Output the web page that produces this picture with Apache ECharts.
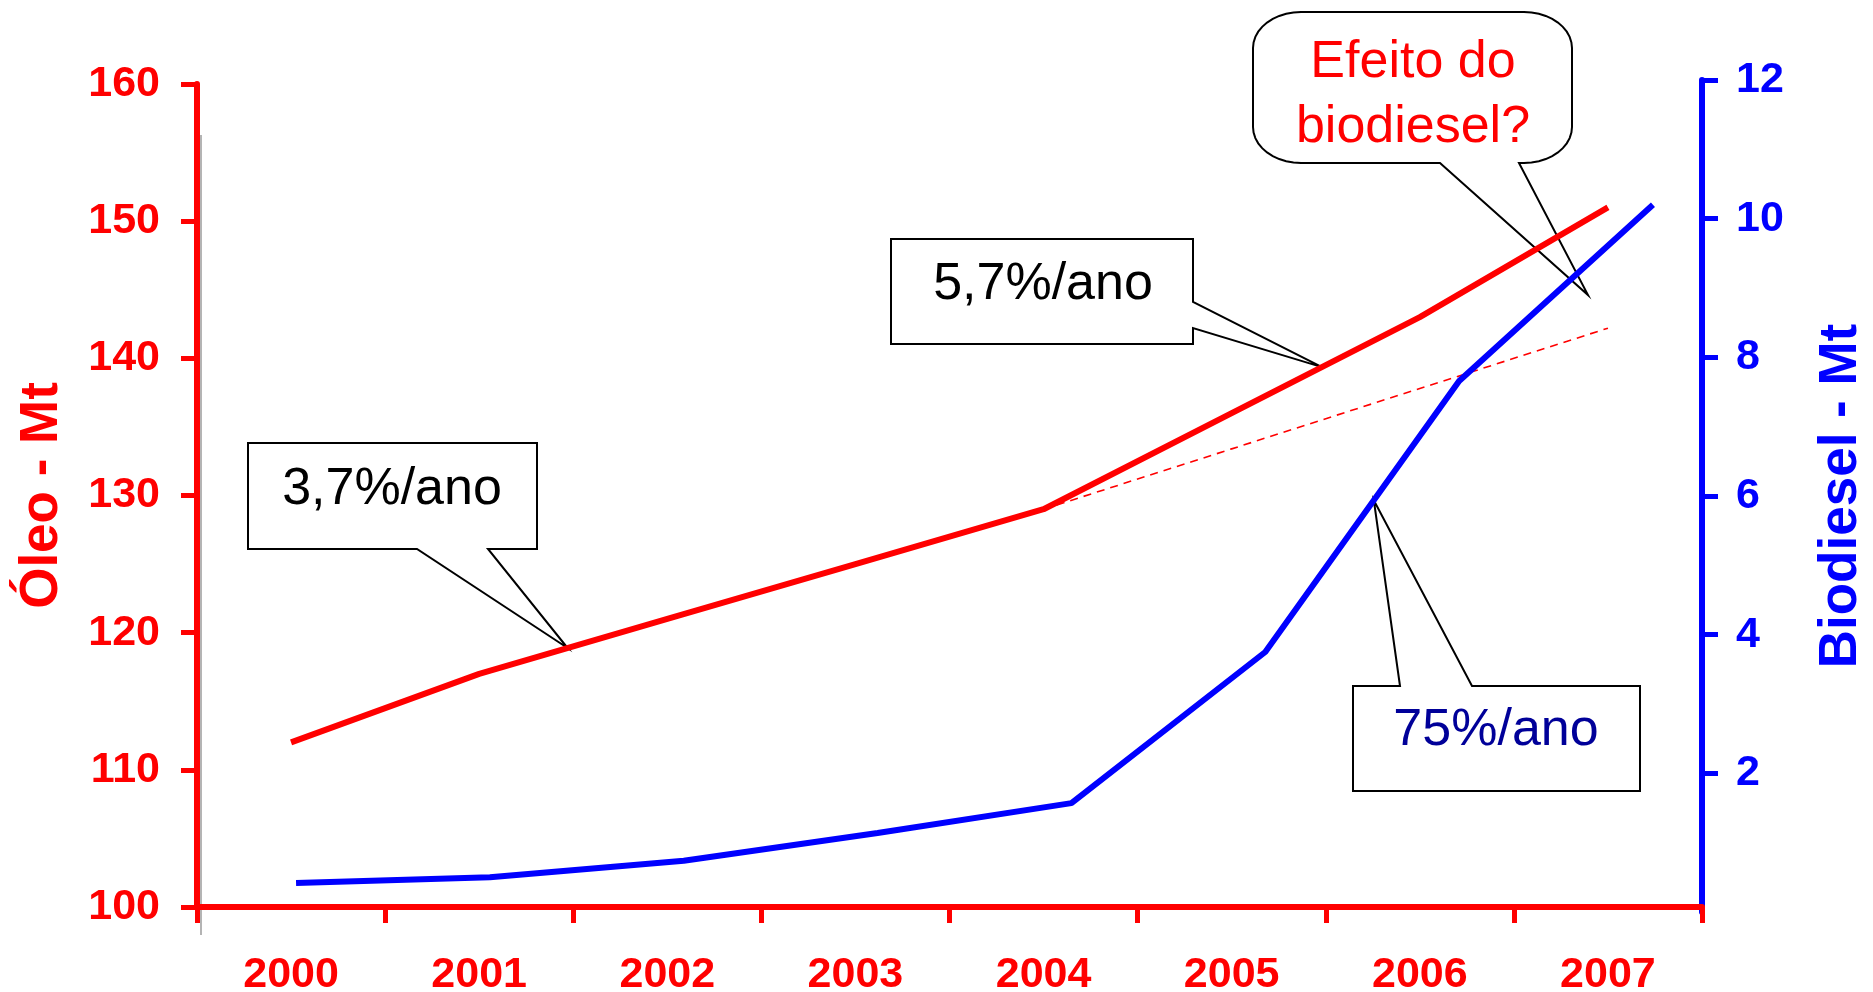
<!DOCTYPE html>
<html>
<head>
<meta charset="utf-8">
<script src="https://cdn.jsdelivr.net/npm/echarts@6/dist/echarts.min.js"></script>
<style>
  html, body { margin: 0; padding: 0; background: #fff; }
  #main { width: 1873px; height: 992px; }
</style>
</head>
<body>
<div id="main"></div>
<script>
// ---- data ----
const categories = ['2000', '2001', '2002', '2003', '2004', '2005', '2006', '2007'];
const oleo = [112, 117, 121, 125, 129, 136, 143, 151];              // Óleo - Mt (left axis)
const oleoTrend = [null, null, null, null, 129, 133.4, 137.8, 142.2]; // 3,7%/ano continuation (dashed)
const biodiesel = [0.42, 0.50, 0.74, 1.14, 1.57, 3.75, 7.66, 10.2];  // Biodiesel - Mt (right axis)
const oleoAxisTitle = 'Óleo - Mt';
const biodieselAxisTitle = 'Biodiesel - Mt';
const biodieselTickLabels = [2, 4, 6, 8, 10, 12];

// ---- style ----
const FONT = '"Liberation Sans", Arial, Helvetica, sans-serif';
const RED = '#ff0000';
const BLUE = '#0000ff';

const chart = echarts.init(document.getElementById('main'), null, { renderer: 'canvas' });

const option = {
  backgroundColor: '#ffffff',
  animation: false,
  grid: [
    { left: 197, right: 171, top: 84, bottom: 85, outerBoundsMode: 'none', containLabel: false },
    { left: 197, right: 171, top: 80, bottom: 80, outerBoundsMode: 'none', containLabel: false }
  ],
  xAxis: [
    {
      type: 'category', gridIndex: 0, data: categories, boundaryGap: true,
      axisLine: { show: true, lineStyle: { color: RED, width: 6 } },
      axisTick: { show: true, length: 16, lineStyle: { color: RED, width: 5 } },
      axisLabel: { color: RED, fontSize: 43, fontWeight: 'bold', fontFamily: FONT, margin: 47 },
      splitLine: { show: false }
    },
    {
      type: 'value', gridIndex: 1, min: -0.511, max: 7.253, show: false
    }
  ],
  yAxis: [
    {
      type: 'value', gridIndex: 0, position: 'left', min: 100, max: 160, interval: 10,
      axisLine: { show: true, onZero: false, lineStyle: { color: RED, width: 6 } },
      axisTick: { show: true, length: 16, lineStyle: { color: RED, width: 5 } },
      axisLabel: { color: RED, fontSize: 43, fontWeight: 'bold', fontFamily: FONT, margin: 37 },
      splitLine: { show: false },
      name: oleoAxisTitle, nameLocation: 'middle', nameRotate: 90, nameGap: 128,
      nameTextStyle: { color: RED, fontSize: 53, fontWeight: 'bold', fontFamily: FONT }
    },
    {
      type: 'value', gridIndex: 1, position: 'right', min: 0, max: 12, interval: 2,
      axisLine: { show: true, onZero: false, lineStyle: { color: BLUE, width: 6 } },
      axisTick: { show: true, length: 16, lineStyle: { color: BLUE, width: 5 }, customValues: biodieselTickLabels },
      axisLabel: { color: BLUE, fontSize: 43, fontWeight: 'bold', fontFamily: FONT, margin: 34, customValues: biodieselTickLabels },
      splitLine: { show: false },
      name: biodieselAxisTitle, nameLocation: 'middle', nameRotate: 90, nameGap: 113,
      nameTextStyle: { color: BLUE, fontSize: 53, fontWeight: 'bold', fontFamily: FONT }
    }
  ],
  series: [
    {
      name: oleoAxisTitle, type: 'line', xAxisIndex: 0, yAxisIndex: 0, data: oleo,
      symbol: 'none', lineStyle: { color: RED, width: 6 }, z: 3
    },
    {
      name: 'trend', type: 'line', xAxisIndex: 0, yAxisIndex: 0, data: oleoTrend,
      symbol: 'none', lineStyle: { color: RED, width: 1.6, type: [8, 6] }, z: 3
    },
    {
      name: biodieselAxisTitle, type: 'line', xAxisIndex: 1, yAxisIndex: 1,
      data: biodiesel.map((v, i) => [i, v]),
      symbol: 'none', lineStyle: { color: BLUE, width: 6 }, z: 3
    }
  ]
};
chart.setOption(option);

// ---- callouts (annotation layout in pixels; tips anchored to the data) ----
function pointOn(seriesIndex, values, i, f) {
  const a = chart.convertToPixel({ seriesIndex }, [i, values[i]]);
  const b = chart.convertToPixel({ seriesIndex }, [i + 1, values[i + 1]]);
  return [a[0] + (b[0] - a[0]) * f, a[1] + (b[1] - a[1]) * f];
}

function arcPts(cx, cy, rx, ry, a0, a1) {
  const pts = [];
  const n = (rx || ry) ? 10 : 1;
  for (let k = 0; k <= n; k++) {
    const a = (a0 + (a1 - a0) * k / n) * Math.PI / 180;
    pts.push([cx + rx * Math.cos(a), cy + ry * Math.sin(a)]);
  }
  return pts;
}

function calloutPoints(c, tip) {
  const [x0, y0, x1, y1] = c.box;
  const rx = c.r ? c.r[0] : 0, ry = c.r ? c.r[1] : 0;
  let p = [];
  if (c.side === 'top') p.push([c.base[0], y0], tip, [c.base[1], y0]);
  p = p.concat(arcPts(x1 - rx, y0 + ry, rx, ry, 270, 360));
  if (c.side === 'right') p.push([x1, c.base[0]], tip, [x1, c.base[1]]);
  p = p.concat(arcPts(x1 - rx, y1 - ry, rx, ry, 0, 90));
  if (c.side === 'bottom') p.push([c.base[1], y1], tip, [c.base[0], y1]);
  p = p.concat(arcPts(x0 + rx, y1 - ry, rx, ry, 90, 180));
  p = p.concat(arcPts(x0 + rx, y0 + ry, rx, ry, 180, 270));
  return p;
}

const callouts = [
  { text: '3,7%/ano', color: '#000000', box: [248, 443, 537, 549], side: 'bottom', base: [417, 488],
    tip: () => pointOn(0, oleo, 1, 0.47), center: [392, 490] },
  { text: '5,7%/ano', color: '#000000', box: [891, 239, 1193, 344], side: 'right', base: [302, 328],
    tip: () => pointOn(0, oleo, 5, 0.48), center: [1043, 285] },
  { text: 'Efeito do\nbiodiesel?', color: RED, box: [1253, 12, 1572, 163], r: [48, 36], side: 'bottom', base: [1440, 1519],
    tip: () => [1588, 295], center: [1413, 95], lineHeight: 65 },
  { text: '75%/ano', color: '#000099', box: [1353, 686, 1640, 791], side: 'top', base: [1400, 1472],
    tip: () => pointOn(2, biodiesel, 5, 0.56), center: [1496, 731] }
];

const graphics = [
  { type: 'line', shape: { x1: 201, y1: 135, x2: 201, y2: 935 }, style: { stroke: '#b4b4b4', lineWidth: 2 }, z: 0 }
];
callouts.forEach((c) => {
  const tip = c.tip();
  graphics.push({
    type: 'polygon', shape: { points: calloutPoints(c, tip) },
    style: { fill: '#ffffff', stroke: '#000000', lineWidth: 2, lineJoin: 'miter' }, z: 1
  });
  graphics.push({
    type: 'text', x: c.center[0], y: c.center[1], z: 5,
    style: {
      text: c.text, fill: c.color, fontSize: 52, fontFamily: FONT,
      align: 'center', verticalAlign: 'middle', lineHeight: c.lineHeight || 60
    }
  });
});
chart.setOption({ graphic: graphics });
</script>
</body>
</html>
